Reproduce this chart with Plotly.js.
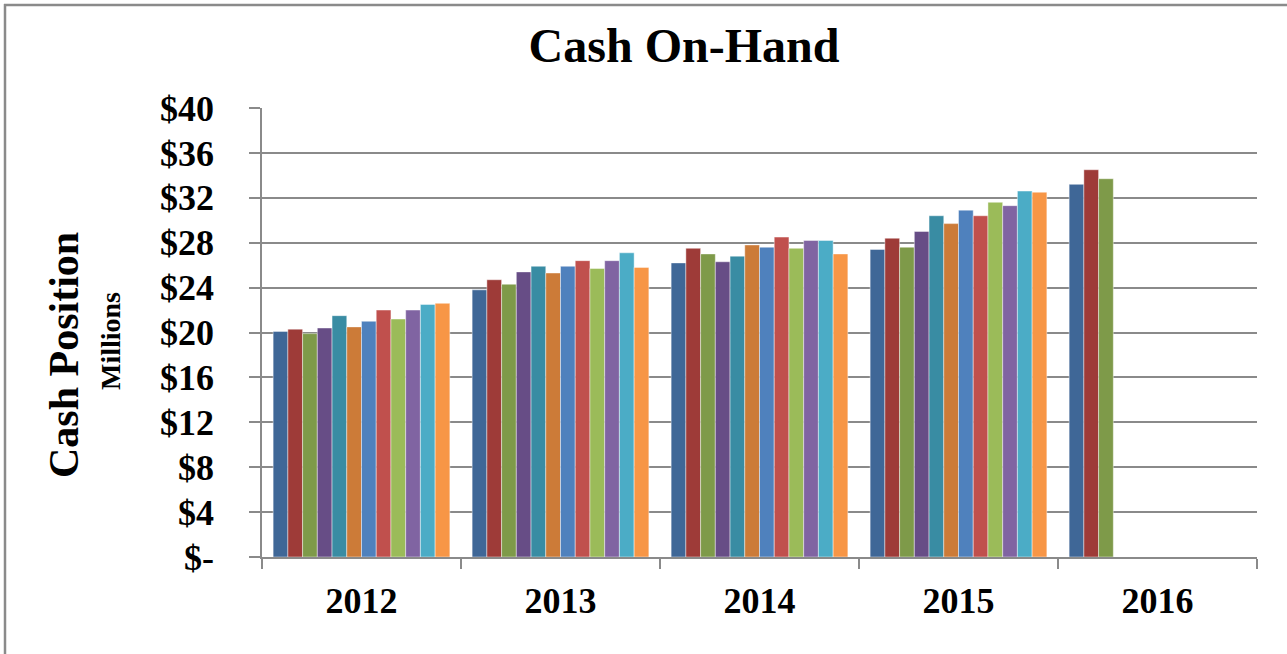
<!DOCTYPE html>
<html>
<head>
<meta charset="utf-8">
<script src="https://cdn.plot.ly/plotly-3.0.1.min.js"></script>
<style>
html,body{margin:0;padding:0;background:#fff;}
#chart{width:1287px;height:654px;}
</style>
</head>
<body>
<div id="chart"></div>
<script>
// Data
const years = ["2012", "2013", "2014", "2015", "2016"];
const seriesNames = ["Jan", "Feb", "Mar", "Apr", "May", "Jun", "Jul", "Aug", "Sep", "Oct", "Nov", "Dec"];
const jan = [20.1, 23.8, 26.2, 27.4, 33.2];
const feb = [20.3, 24.7, 27.5, 28.4, 34.5];
const mar = [19.9, 24.3, 27.0, 27.6, 33.7];
const apr = [20.4, 25.4, 26.3, 29.0, null];
const may = [21.5, 25.9, 26.8, 30.4, null];
const jun = [20.5, 25.3, 27.8, 29.7, null];
const jul = [21.0, 25.9, 27.6, 30.9, null];
const aug = [22.0, 26.4, 28.5, 30.4, null];
const sep = [21.2, 25.7, 27.5, 31.6, null];
const oct = [22.0, 26.4, 28.2, 31.3, null];
const nov = [22.5, 27.1, 28.2, 32.6, null];
const dec = [22.6, 25.8, 27.0, 32.5, null];
const seriesValues = [jan, feb, mar, apr, may, jun, jul, aug, sep, oct, nov, dec];
const yTickVals = [0, 4, 8, 12, 16, 20, 24, 28, 32, 36, 40];
const yTickText = ["$-", "$4", "$8", "$12", "$16", "$20", "$24", "$28", "$32", "$36", "$40"];

const colors = ["#3F6797", "#9E3B38", "#7E9A49", "#674D86", "#398CA3", "#CC7B38",
                "#4F81BD", "#C0504D", "#9BBB59", "#8064A2", "#4BACC6", "#F79646"];

const traces = seriesValues.map((vals, i) => ({
  type: "bar",
  name: seriesNames[i],
  x: years,
  y: vals,
  marker: {color: colors[i], line: {color: "rgba(255,255,255,0.55)", width: 0.8}},
  hovertemplate: "%{x} " + seriesNames[i] + ": $%{y}M<extra></extra>"
}));

const L = 262, R = 30, T = 108, B = 97;
const W = 1287, H = 654;
const pw = W - L - R, ph = H - T - B;
const px = v => (v - L) / pw;
const py = v => (H - B - v) / ph;

const font = "Liberation Serif, Times New Roman, serif";

const layout = {
  width: W, height: H,
  margin: {l: L, r: R, t: T, b: B, pad: 0},
  paper_bgcolor: "#ffffff",
  plot_bgcolor: "#ffffff",
  showlegend: false,
  barmode: "group",
  bargap: 0.112,
  bargroupgap: 0,
  font: {family: font, color: "#000"},
  title: {
    text: "<b>Cash On-Hand</b>",
    font: {family: font, size: 48, color: "#000"},
    x: 684 / W, xanchor: "center", xref: "container",
    y: 1 - 45 / H, yanchor: "middle", yref: "container"
  },
  xaxis: {
    type: "category",
    tickson: "boundaries",
    ticks: "outside",
    ticklen: 10,
    tickwidth: 1.5,
    tickcolor: "#8a8a8a",
    showline: true,
    linecolor: "#8a8a8a",
    linewidth: 1.5,
    showgrid: false,
    tickfont: {family: font, size: 36, color: "#000", weight: "bold"},
    ticklabelstandoff: 11,
    fixedrange: true
  },
  yaxis: {
    range: [0, 40],
    tickvals: yTickVals,
    ticktext: yTickText,
    ticks: "outside",
    ticklen: 11,
    tickwidth: 1.5,
    tickcolor: "#8a8a8a",
    showline: true,
    linecolor: "#8a8a8a",
    linewidth: 1.5,
    showgrid: true,
    gridcolor: "#8a8a8a",
    gridwidth: 1.5,
    zeroline: false,
    tickfont: {family: font, size: 36, color: "#000", weight: "bold"},
    ticklabelstandoff: 28,
    fixedrange: true
  },
  annotations: [
    {
      text: "<b>Cash Position</b>",
      textangle: -90,
      xref: "paper", yref: "paper",
      x: px(64), y: py(355),
      xanchor: "center", yanchor: "middle",
      showarrow: false,
      font: {family: font, size: 42, color: "#000"}
    },
    {
      text: "<b>Millions</b>",
      textangle: -90,
      xref: "paper", yref: "paper",
      x: px(110), y: py(341),
      xanchor: "center", yanchor: "middle",
      showarrow: false,
      font: {family: font, size: 28, color: "#000"}
    }
  ],
  shapes: [
    {type: "line", xref: "paper", yref: "paper", x0: px(5), x1: px(5), y0: py(4), y1: py(654),
     line: {color: "#8a8a8a", width: 2.5}},
    {type: "line", xref: "paper", yref: "paper", x0: px(4), x1: px(1287), y0: py(5), y1: py(5),
     line: {color: "#8a8a8a", width: 2.5}}
  ]
};

Plotly.newPlot("chart", traces, layout, {displayModeBar: false, staticPlot: false});
</script>
</body>
</html>
